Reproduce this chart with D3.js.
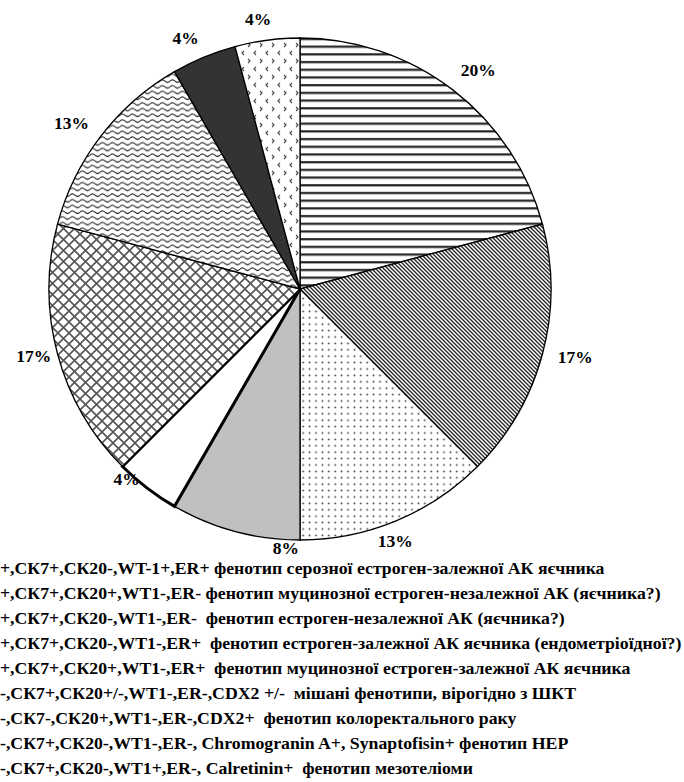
<!DOCTYPE html>
<html><head><meta charset="utf-8">
<script src="https://cdn.jsdelivr.net/npm/d3@7"></script>
<style>html,body{margin:0;padding:0;background:#fff;overflow:hidden}
svg text{font-family:"Liberation Serif","Times New Roman","DejaVu Serif",serif;font-weight:bold}</style>
</head><body>
<svg id="chart" width="684" height="782"></svg>
<script>
const categories = [
  "+,СК7+,СК20-,WT-1+,ER+ фенотип серозної естроген-залежної АК яєчника",
  "+,СК7+,СК20+,WT1-,ER- фенотип муцинозної естроген-незалежної АК (яєчника?)",
  "+,СК7+,СК20-,WT1-,ER-  фенотип естроген-незалежної АК (яєчника?)",
  "+,СК7+,СК20-,WT1-,ER+  фенотип естроген-залежної АК яєчника (ендометріоїдної?)",
  "+,СК7+,СК20+,WT1-,ER+  фенотип муцинозної естроген-залежної АК яєчника",
  "-,СК7+,СК20+/-,WT1-,ER-,CDX2 +/-  мішані фенотипи, вірогідно з ШКТ",
  "-,СК7-,СК20+,WT1-,ER-,CDX2+  фенотип колоректального раку",
  "-,СК7+,СК20-,WT1-,ER-, Chromogranin A+, Synaptofisin+ фенотип НЕР",
  "-,СК7+,СК20-,WT1+,ER-, Calretinin+  фенотип мезотеліоми"
];
// case counts per phenotype (slice sizes)
const values = [5, 4, 3, 2, 1, 4, 3, 1, 1];
const valueLabels = ["20%", "17%", "13%", "8%", "4%", "17%", "13%", "4%", "4%"];

// styling (not data)
const fills = ["url(#pHoriz)", "url(#pDiag)", "url(#pDots)", "#c0c0c0", "#ffffff",
               "url(#pCross)", "url(#pWave)", "#333333", "url(#pChev)"];
const strokeW = [1.3, 1.3, 1.3, 1.3, 3, 1.3, 1.3, 1.3, 1.3];
const labelNudge = [[6,5],[2,-5],[-13,-10],[59,-14],[-1,-35],[7,-6],[-4,6],[-6,10],[-5,10]];

const svg = d3.select("#chart");
const defs = svg.append("defs");

let p = defs.append("pattern").attr("id","pHoriz").attr("patternUnits","userSpaceOnUse")
  .attr("width",8).attr("height",7.7);
p.append("rect").attr("width",8).attr("height",7.7).attr("fill","#fff");
p.append("rect").attr("y",3).attr("width",8).attr("height",2.2).attr("fill","#222");

p = defs.append("pattern").attr("id","pDiag").attr("patternUnits","userSpaceOnUse")
  .attr("width",4).attr("height",4);
p.append("rect").attr("width",4).attr("height",4).attr("fill","#fff");
p.append("path").attr("d","M-1,-1 L5,5 M-1,3 L1,5 M3,-1 L5,1").attr("stroke","#222").attr("stroke-width",1.3);

p = defs.append("pattern").attr("id","pDots").attr("patternUnits","userSpaceOnUse")
  .attr("width",6.4).attr("height",6.4);
p.append("rect").attr("width",6.4).attr("height",6.4).attr("fill","#fff");
p.append("circle").attr("cx",3.2).attr("cy",3.2).attr("r",0.9).attr("fill","#333");

p = defs.append("pattern").attr("id","pCross").attr("patternUnits","userSpaceOnUse")
  .attr("width",11).attr("height",11);
p.append("rect").attr("width",11).attr("height",11).attr("fill","#fff");
p.append("path").attr("d","M0,0 L11,11 M11,0 L0,11").attr("stroke","#555").attr("stroke-width",1.6);

p = defs.append("pattern").attr("id","pWave").attr("patternUnits","userSpaceOnUse")
  .attr("width",10).attr("height",5.7);
p.append("rect").attr("width",10).attr("height",5.7).attr("fill","#fff");
p.append("path").attr("d","M0,3 Q2.5,0.5 5,3 T10,3").attr("fill","none").attr("stroke","#333").attr("stroke-width",1.2);

p = defs.append("pattern").attr("id","pChev").attr("patternUnits","userSpaceOnUse")
  .attr("width",12).attr("height",16);
p.append("rect").attr("width",12).attr("height",16).attr("fill","#fff");
p.append("path").attr("d","M4,2 L2,4 L4,6 M8,10 L10,12 L8,14").attr("fill","none").attr("stroke","#444").attr("stroke-width",1.1);

const cx = 300, cy = 289, R = 251;
const g = svg.append("g").attr("transform",`translate(${cx},${cy})`);

const pie = d3.pie().sort(null).value(d => d)(values);
const arc = d3.arc().innerRadius(0).outerRadius(R);
const labelArc = d3.arc().innerRadius(283).outerRadius(283);

g.selectAll("path.slice").data(pie).join("path")
  .attr("class","slice")
  .attr("d", arc)
  .attr("fill",(d,i)=>fills[i])
  .attr("stroke","#000")
  .attr("stroke-width",(d,i)=>strokeW[i])
  .attr("stroke-linejoin","miter");

g.selectAll("text.lbl").data(pie).join("text")
  .attr("class","lbl")
  .attr("x",(d,i)=>labelArc.centroid(d)[0] + labelNudge[i][0])
  .attr("y",(d,i)=>labelArc.centroid(d)[1] + labelNudge[i][1])
  .attr("dy","0.35em")
  .attr("text-anchor","middle")
  .attr("font-size",17.5)
  .text((d,i)=>valueLabels[i]);

const leg = svg.append("g").selectAll("text").data(categories).join("text")
  .attr("x",0)
  .attr("y",(d,i)=>574 + i*25)
  .attr("xml:space","preserve")
  .style("white-space","pre")
  .attr("font-size",14)
  .text(d=>d);
// fit font so the longest legend line spans the page width as in the reference
const w4 = leg.nodes()[3].getComputedTextLength();
const fs = Math.min(20, 14 * 682 / w4);
leg.attr("font-size", fs);
</script>
</body></html>
